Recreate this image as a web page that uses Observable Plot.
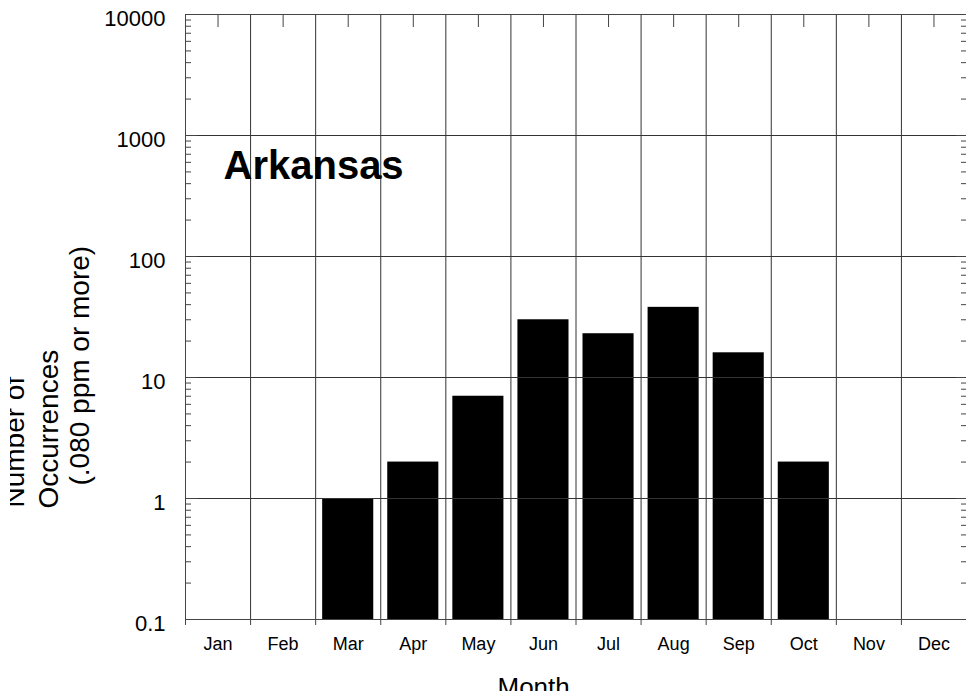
<!DOCTYPE html>
<html>
<head>
<meta charset="utf-8">
<script src="https://cdn.jsdelivr.net/npm/d3@7"></script>
<script src="https://cdn.jsdelivr.net/npm/@observablehq/plot@0.6"></script>
<style>
  html, body { margin: 0; padding: 0; background: #fff; overflow: hidden; }
  #chart svg { display: block; clip-path: inset(0 0 0 10px); }
</style>
</head>
<body>
<div id="chart"></div>
<script>
// ---- data ----
const months = ["Jan", "Feb", "Mar", "Apr", "May", "Jun", "Jul", "Aug", "Sep", "Oct", "Nov", "Dec"];
const counts = [0, 0, 1, 2, 7, 30, 23, 38, 16, 2, 0, 0];
const yDomain = [0.1, 10000];
const yMajorTicks = [0.1, 1, 10, 100, 1000, 10000];
const yTickLabels = ["0.1", "1", "10", "100", "1000", "10000"];
const stateName = "Arkansas";
const xTitle = "Month";
const yTitleLines = ["Number of", "Occurrences", "(.080 ppm or more)"];

// ---- derived ----
const rows = months.map((m, i) => ({month: m, i, count: counts[i]})).filter(d => d.count > 0);
const boundaries = d3.range(months.length + 1);
const centers = months.map((m, i) => i + 0.5);
const yMinorTicks = yMajorTicks.slice(0, -1).flatMap(v => d3.range(2, 10).map(k => k * v));

const font = "'Liberation Sans', Arial, Helvetica, sans-serif";
const lineColor = "#333";
const tickColor = "#444";

const chart = Plot.plot({
  width: 966,
  height: 691,
  marginLeft: 185,
  marginRight: 0,
  marginTop: 14,
  marginBottom: 72,
  style: {fontFamily: font, background: "#fff", color: "#000"},
  x: {type: "linear", domain: [0, months.length], label: null},
  y: {type: "log", domain: yDomain, label: null},
  marks: [
    // bars
    Plot.rectY(rows, {x1: "i", x2: d => d.i + 1, y1: () => yDomain[0], y2: "count", fill: "#000", insetLeft: 7, insetRight: 7}),
    // grid
    Plot.ruleX(boundaries.slice(1, -1), {stroke: lineColor}),
    Plot.ruleY(yMajorTicks.slice(1, -1), {stroke: lineColor}),
    // frame (top, bottom, left)
    Plot.ruleY(yDomain, {stroke: tickColor}),
    Plot.ruleX([0], {stroke: tickColor}),
    // x ticks: bottom boundaries outward, top centers inward
    Plot.axisX({anchor: "bottom", ticks: boundaries, tickSize: 6, tickFormat: () => "", stroke: tickColor, label: null}),
    Plot.axisX({anchor: "top", ticks: centers, tickSize: -12, tickFormat: () => "", stroke: tickColor, label: null}),
    Plot.axisX({anchor: "bottom", ticks: centers, tickSize: 0, tickPadding: 18, fontSize: 18, fill: "#000",
      tickFormat: d => months[Math.round(d - 0.5)], label: null}),
    // y ticks: left inward, right inward
    Plot.axisY({anchor: "left", ticks: yMajorTicks, tickSize: -12, tickFormat: () => "", stroke: tickColor, label: null}),
    Plot.axisY({anchor: "left", ticks: yMinorTicks, tickSize: -6, tickFormat: () => "", stroke: tickColor, label: null}),
    Plot.axisY({anchor: "right", ticks: yMajorTicks, tickSize: -11, tickFormat: () => "", stroke: tickColor, label: null}),
    Plot.axisY({anchor: "right", ticks: yMinorTicks, tickSize: -6, tickFormat: () => "", stroke: tickColor, label: null}),
    Plot.axisY({anchor: "left", ticks: yMajorTicks, tickSize: 0, tickPadding: 20, fontSize: 22, dy: 4, fill: "#000",
      tickFormat: d => yTickLabels[yMajorTicks.indexOf(d)], label: null}),
    // annotations
    Plot.text([stateName], {frameAnchor: "top-left", text: d => d, textAnchor: "start", lineAnchor: "top",
      dx: 38, dy: 136, fontSize: 40, fontWeight: "bold", fill: "#000"}),
    Plot.text([xTitle], {frameAnchor: "bottom", text: d => d, textAnchor: "start", lineAnchor: "top",
      dx: -78.5, dy: 58, fontSize: 26, fill: "#000"}),
    Plot.text([yTitleLines[0]], {frameAnchor: "left", text: d => d, rotate: -90, textAnchor: "start", lineAnchor: "middle",
      dx: -170, dy: 190.5, fontSize: 28, fill: "#000"}),
    Plot.text([yTitleLines[1]], {frameAnchor: "left", text: d => d, rotate: -90, textAnchor: "start", lineAnchor: "middle",
      dx: -136, dy: 191.5, fontSize: 28, fill: "#000"}),
    Plot.text([yTitleLines[2]], {frameAnchor: "left", text: d => d, rotate: -90, textAnchor: "start", lineAnchor: "middle",
      dx: -105, dy: 168.5, fontSize: 28, fill: "#000"})
  ]
});

document.getElementById("chart").appendChild(chart);
</script>
</body>
</html>
